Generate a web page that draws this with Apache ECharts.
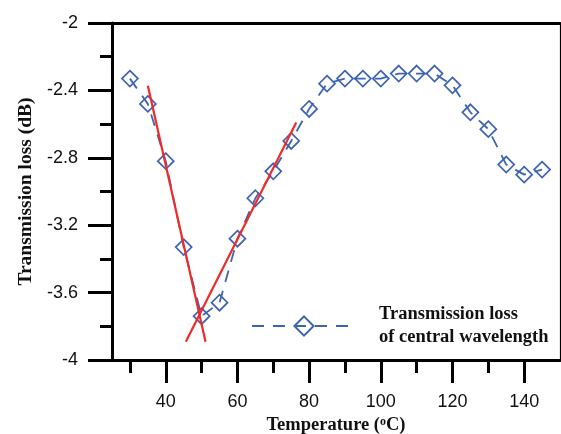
<!DOCTYPE html>
<html>
<head>
<meta charset="utf-8">
<style>
  html, body { margin: 0; padding: 0; background: #fff; }
  #chart { width: 561px; height: 434px; }
</style>
<script src="https://cdn.jsdelivr.net/npm/echarts@6/dist/echarts.min.js"></script>
</head>
<body>
<div id="chart"></div>
<script>
// Measured transmission loss of the central wavelength vs. temperature
const temperature = [30, 35, 40, 45, 50, 55, 60, 65, 70, 75, 80, 85,
                     90, 95, 100, 105, 110, 115, 120, 125, 130, 135, 140, 145];
const loss = [-2.33, -2.48, -2.82, -3.33, -3.74, -3.66, -3.28, -3.04, -2.88, -2.70, -2.51, -2.36,
              -2.33, -2.33, -2.33, -2.30, -2.30, -2.30, -2.37, -2.53, -2.63, -2.84, -2.90, -2.87];

// Linear fits on the falling and rising edges (end points)
const fitFallX = [35.0, 51.1];
const fitFallY = [-2.373, -3.891];
const fitRiseX = [45.6, 76.4];
const fitRiseY = [-3.891, -2.59];

// Axis ticks
const xMajorTicks = [40, 60, 80, 100, 120, 140];
const xMinorTicks = [30, 50, 70, 90, 110, 130];

const pairs = (xs, ys) => xs.map((x, i) => [x, ys[i]]);

const serif = "'Liberation Serif', 'Times New Roman', serif";
const sans = "'Liberation Sans', Arial, sans-serif";
const blue = '#3e63b1';
const red = '#ee2b2b';

const chart = echarts.init(document.getElementById('chart'));
chart.setOption({
  animation: false,
  backgroundColor: '#fff',
  grid: { left: 112, right: 1, top: 23, bottom: 74, outerBoundsMode: 'none', containLabel: false },
  legend: {
    left: 246,
    top: 298,
    selectedMode: false,
    itemWidth: 104,
    itemHeight: 24,
    data: ['loss'],
    formatter: () => 'Transmission loss\nof central wavelength',
    textStyle: {
      fontFamily: serif, fontWeight: 'bold', fontSize: 18.5,
      lineHeight: 23, color: '#111', padding: [0, 0, 0, 18]
    }
  },
  xAxis: [
    {
      type: 'value', min: 25, max: 150, position: 'bottom',
      name: 'Temperature ({sup|o}C)', nameLocation: 'middle', nameGap: 52,
      nameTextStyle: {
        fontFamily: serif, fontWeight: 'bold', fontSize: 18.5, color: '#111',
        rich: { sup: { fontFamily: serif, fontWeight: 'bold', fontSize: 12, verticalAlign: 'top', lineHeight: 12 } }
      },
      splitLine: { show: false },
      axisLine: { show: true, onZero: false, lineStyle: { color: '#000', width: 3 } },
      axisTick: { show: true, customValues: xMajorTicks, length: 23, lineStyle: { color: '#000', width: 3 } },
      axisLabel: { customValues: xMajorTicks, margin: 33, fontFamily: sans, fontSize: 18, color: '#111' }
    },
    {
      type: 'value', min: 25, max: 150, position: 'bottom',
      splitLine: { show: false },
      axisLine: { show: false },
      axisTick: { show: true, customValues: xMinorTicks, length: 13, lineStyle: { color: '#000', width: 3 } },
      axisLabel: { show: false }
    },
    {
      type: 'value', min: 25, max: 150, position: 'top',
      splitLine: { show: false },
      axisLine: { show: true, onZero: false, lineStyle: { color: '#000', width: 3 } },
      axisTick: { show: false },
      axisLabel: { show: false }
    }
  ],
  yAxis: [
    {
      type: 'value', min: -4, max: -2, interval: 0.4, position: 'left',
      name: 'Transmission loss (dB)', nameLocation: 'middle', nameGap: 76,
      nameTextStyle: { fontFamily: serif, fontWeight: 'bold', fontSize: 19.5, color: '#111' },
      splitLine: { show: false },
      axisLine: { show: true, onZero: false, lineStyle: { color: '#000', width: 3 } },
      axisTick: { show: true, length: 24, lineStyle: { color: '#000', width: 3 } },
      minorTick: { show: true, splitNumber: 2, length: 12, lineStyle: { color: '#000', width: 3 } },
      axisLabel: {
        margin: 34, fontFamily: sans, fontSize: 18, color: '#111',
        formatter: v => String(+v.toFixed(1))
      }
    },
    {
      type: 'value', min: -4, max: -2, position: 'right',
      splitLine: { show: false },
      axisLine: { show: true, onZero: false, lineStyle: { color: '#000', width: 1.2 } },
      axisTick: { show: false },
      axisLabel: { show: false }
    }
  ],
  series: [
    {
      name: 'loss',
      type: 'line',
      data: pairs(temperature, loss),
      symbol: 'diamond',
      symbolSize: 16,
      showAllSymbol: true,
      itemStyle: { color: 'rgba(255,255,255,0)', borderColor: blue, borderWidth: 1.7 },
      lineStyle: { color: blue, width: 1.8, type: [12, 9] },
      z: 2
    },
    {
      name: 'fitFall',
      type: 'line',
      data: pairs(fitFallX, fitFallY),
      symbol: 'none',
      lineStyle: { color: red, width: 2.2 },
      z: 3
    },
    {
      name: 'fitRise',
      type: 'line',
      data: pairs(fitRiseX, fitRiseY),
      symbol: 'none',
      lineStyle: { color: red, width: 2.2 },
      z: 3
    }
  ]
});
</script>
</body>
</html>
